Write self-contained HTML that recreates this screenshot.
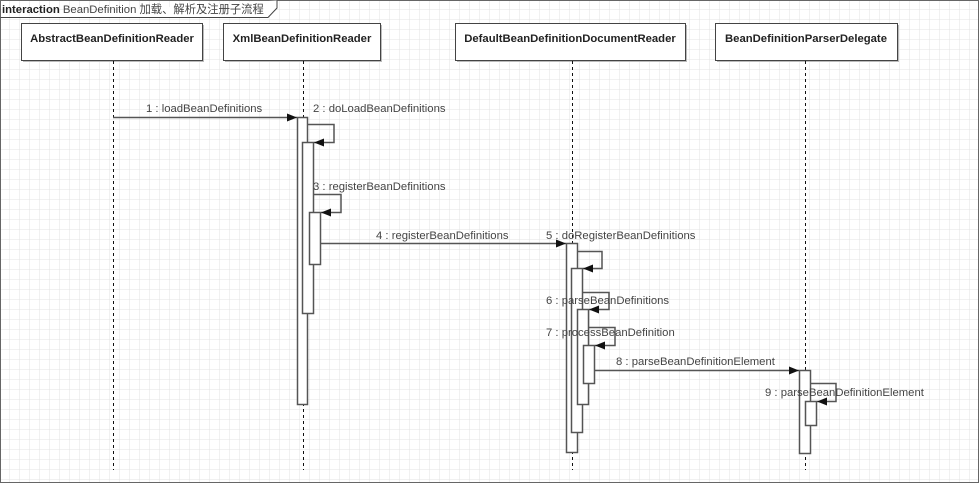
<!DOCTYPE html>
<html><head><meta charset="utf-8"><style>
body{margin:0;background:#fff}
svg{display:block}
text{font-family:"Liberation Sans","Noto Sans CJK SC",sans-serif;font-size:11.3px;fill:#444}
.b{font-weight:bold;fill:#222}
</style></head><body>
<svg width="979" height="483" xmlns="http://www.w3.org/2000/svg">
<defs>
<pattern id="g" width="10" height="10" patternUnits="userSpaceOnUse"><path d="M10 0V10M0 10H10" fill="none" stroke="#e3e3e3" stroke-width="1"/></pattern>
<marker id="a" markerWidth="10" markerHeight="8" refX="10" refY="4" orient="auto" markerUnits="userSpaceOnUse"><path d="M0 0L10 4L0 8z" fill="#111"/></marker>
</defs>
<rect x="0" y="0" width="979" height="483" fill="url(#g)"/>
<rect x="0.5" y="0.5" width="978" height="482" fill="none" stroke="#666"/>
<path d="M0.5 17.5H268L277 8V0.5" fill="#fff" stroke="#444"/>
<text x="2" y="13"><tspan class="b">interaction</tspan> BeanDefinition 加载、解析及注册子流程</text>
<g fill="#bbb">
<rect x="23" y="25" width="181" height="37"/>
<rect x="225" y="25" width="157" height="37"/>
<rect x="457" y="25" width="230" height="37"/>
<rect x="717" y="25" width="182" height="37"/>
</g>
<g fill="#fff" stroke="#444">
<rect x="21.5" y="23.5" width="181" height="37"/>
<rect x="223.5" y="23.5" width="157" height="37"/>
<rect x="455.5" y="23.5" width="230" height="37"/>
<rect x="715.5" y="23.5" width="182" height="37"/>
</g>
<g text-anchor="middle">
<text class="b" x="112" y="42">AbstractBeanDefinitionReader</text>
<text class="b" x="302" y="42">XmlBeanDefinitionReader</text>
<text class="b" x="570" y="42">DefaultBeanDefinitionDocumentReader</text>
<text class="b" x="806" y="42">BeanDefinitionParserDelegate</text>
</g>
<g stroke="#111" stroke-dasharray="3,3" stroke-width="1">
<line x1="113.5" y1="61" x2="113.5" y2="470"/>
<line x1="303.5" y1="61" x2="303.5" y2="470"/>
<line x1="572.5" y1="61" x2="572.5" y2="470"/>
<line x1="805.5" y1="61" x2="805.5" y2="470"/>
</g>
<g fill="#fff" stroke="#555" stroke-width="1.5">
<rect x="297.5" y="117.5" width="10" height="287"/>
<rect x="302.5" y="142.5" width="11" height="171"/>
<rect x="309.5" y="212.5" width="11" height="52"/>
<rect x="566.5" y="243.5" width="11" height="209"/>
<rect x="571.5" y="268.5" width="11" height="164"/>
<rect x="577.5" y="309.5" width="11" height="95"/>
<rect x="583.5" y="345.5" width="11" height="38"/>
<rect x="799.5" y="370.5" width="11" height="83"/>
<rect x="805.5" y="401.5" width="11" height="24"/>
</g>
<g fill="none" stroke="#555" stroke-width="1.5" marker-end="url(#a)">
<path d="M113 117.5H297"/>
<path d="M308 124.5H334V142.5H314"/>
<path d="M314 194.5H341V212.5H321"/>
<path d="M321 243.5H566"/>
<path d="M578 251.5H602V268.5H583"/>
<path d="M583 292.5H609V309.5H589"/>
<path d="M589 327.5H615V345.5H595"/>
<path d="M595 370.5H799"/>
<path d="M811 383.5H836V401.5H817"/>
</g>
<text x="146" y="112">1 : loadBeanDefinitions</text>
<text x="313" y="112">2 : doLoadBeanDefinitions</text>
<text x="313" y="190">3 : registerBeanDefinitions</text>
<text x="376" y="239">4 : registerBeanDefinitions</text>
<text x="546" y="239">5 : doRegisterBeanDefinitions</text>
<text x="546" y="304">6 : parseBeanDefinitions</text>
<text x="546" y="336">7 : processBeanDefinition</text>
<text x="616" y="365">8 : parseBeanDefinitionElement</text>
<text x="765" y="396">9 : parseBeanDefinitionElement</text>
</svg>
</body></html>
